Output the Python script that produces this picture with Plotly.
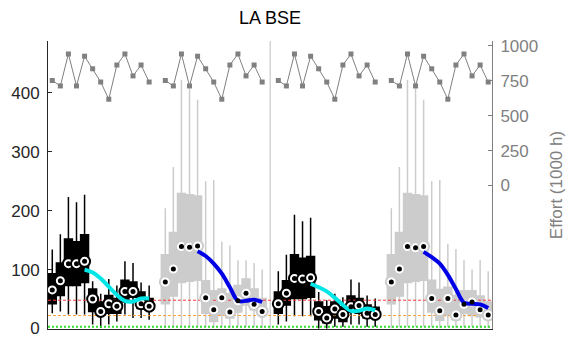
import plotly.graph_objects as go

# x positions of the four year blocks (a gap column separates them)
pos_g1 = list(range(1, 14))
pos_g2 = list(range(15, 28))
pos_g3 = list(range(29, 42))
pos_g4 = list(range(43, 56))

# fishing effort (1000 h), same yearly series in every block
effort = [752, 713, 942, 713, 926, 836, 741, 618, 863, 942, 785, 863, 741]

# block 1 (black)
q1_g1 = [42, 56, 73, 73, 78, 29, 24, 26, 26, 45, 53, 34, 32]
q3_g1 = [93, 111, 152, 147, 159, 67, 45, 56, 51, 82, 79, 62, 51]
lo_g1 = [26, 29, 24, 24, 24, 7, 1, 7, 12, 24, 18, 18, 15]
hi_g1 = [134, 160, 223, 214, 227, 80, 59, 84, 73, 114, 111, 78, 73]
med_g1 = [65.5, 81, 110, 110, 114, 50, 29, 42, 38, 63, 63, 42, 38]

# block 2 (grey)
q1_g2 = [42, 55, 78, 80, 82, 26, 12, 23, 18, 28, 40, 32, 23]
q3_g2 = [125, 163, 229, 227, 225, 81, 64, 67, 59, 73, 84, 67, 51]
lo_g2 = [1, 2, 3, 3, 3, 2, 1, 2, 1, 2, 3, 2, 1]
hi_g2 = [204, 274, 422, 407, 388, 250, 252, 147, 141, 116, 116, 111, 100]
med_g2 = [79, 101, 139, 138, 140, 52, 32, 52, 28, 47, 60, 41, 29]

# block 3 (black)
q1_g3 = [26, 40, 51, 51, 53, 15, 10, 18, 12, 29, 26, 18, 18]
q3_g3 = [62, 81, 125, 119, 122, 45, 37, 45, 37, 55, 51, 40, 36]
lo_g3 = [7, 12, 21, 21, 21, 0, 0, 3, 3, 7, 7, 3, 3]
hi_g3 = [97, 125, 193, 182, 188, 62, 48, 59, 53, 83, 78, 56, 51]
med_g3 = [42, 60, 85, 84, 86, 29, 18, 33, 24, 37, 39, 26, 24]

# block 4 (grey)
q1_g4 = [42, 55, 78, 80, 82, 28, 14, 22, 15, 26, 22, 20, 16]
q3_g4 = [125, 163, 229, 227, 225, 82, 66, 70, 56, 64, 64, 55, 45]
lo_g4 = [1, 2, 3, 3, 3, 2, 1, 2, 1, 2, 3, 2, 1]
hi_g4 = [204, 274, 422, 407, 388, 250, 252, 144, 135, 116, 100, 116, 97]
med_g4 = [79, 101, 139, 137, 139, 51, 30, 51, 23, 41, 45, 32, 23]

# smoothed trends over the last nine years of each block
trend_g1 = [100, 95, 85, 71, 57, 47, 46, 51, 51]
trend_g2 = [131, 123, 110, 93, 70, 47, 47, 49, 45]
trend_g3 = [76, 70, 63, 52, 40, 30, 30, 34, 31]
trend_g4 = [130, 121, 110, 91, 67, 44, 42, 41, 35]

# reference levels
ref_red = 48
ref_orange = 22
ref_green = 3

FONT = "Liberation Sans, Arial, Helvetica, sans-serif"
BLACK = "#000000"
GREY = "#cccccc"
X_RANGE = [0.47, 55.47]

fig = go.Figure()

# horizontal reference lines (behind everything)
for level, col, dash, w in [(ref_red, "#ff3b3b", "3px,2px", 1),
                            (ref_orange, "#ffa033", "3px,2px", 1),
                            (ref_green, "#33dd33", "2px,2px", 2)]:
    fig.add_trace(go.Scatter(x=X_RANGE, y=[level, level], mode="lines",
                             line=dict(color=col, width=w, dash=dash),
                             hoverinfo="skip", showlegend=False))


def add_box(pos, q1, med, q3, lo, hi, col):
    fig.add_trace(go.Box(x=pos, q1=q1, median=med, q3=q3,
                         lowerfence=lo, upperfence=hi,
                         width=0.98, whiskerwidth=0,
                         fillcolor=col, line=dict(color=col, width=1.5),
                         boxpoints=False, showlegend=False, hoverinfo="skip"))


add_box(pos_g2, q1_g2, med_g2, q3_g2, lo_g2, hi_g2, GREY)
add_box(pos_g4, q1_g4, med_g4, q3_g4, lo_g4, hi_g4, GREY)
add_box(pos_g1, q1_g1, med_g1, q3_g1, lo_g1, hi_g1, BLACK)
add_box(pos_g3, q1_g3, med_g3, q3_g3, lo_g3, hi_g3, BLACK)

# effort line on the secondary axis
ex, ey = [], []
for p in (pos_g1, pos_g2, pos_g3, pos_g4):
    ex += p + [None]
    ey += effort + [None]
fig.add_trace(go.Scatter(x=ex, y=ey, yaxis="y2", mode="lines+markers",
                         line=dict(color="#808080", width=1),
                         marker=dict(symbol="square", size=5, color="#808080"),
                         connectgaps=False, showlegend=False, hoverinfo="skip"))

# median markers: white disc with ring
for pos, med, ring in [(pos_g1, med_g1, BLACK), (pos_g2, med_g2, GREY),
                       (pos_g3, med_g3, BLACK), (pos_g4, med_g4, GREY)]:
    fig.add_trace(go.Scatter(x=pos, y=med, mode="markers",
                             marker=dict(symbol="circle", size=11, color="white",
                                         line=dict(color=ring, width=2)),
                             showlegend=False, hoverinfo="skip"))

# trend curves
for pos, tr, col in [(pos_g1, trend_g1, "#00e6e6"), (pos_g2, trend_g2, "#0000e6"),
                     (pos_g3, trend_g3, "#00e6e6"), (pos_g4, trend_g4, "#0000e6")]:
    fig.add_trace(go.Scatter(x=pos[4:], y=tr, mode="lines",
                             line=dict(color=col, width=4, shape="spline"),
                             showlegend=False, hoverinfo="skip"))

# median centre dots
for pos, med in [(pos_g1, med_g1), (pos_g2, med_g2), (pos_g3, med_g3), (pos_g4, med_g4)]:
    fig.add_trace(go.Scatter(x=pos, y=med, mode="markers",
                             marker=dict(symbol="circle", size=5, color="black"),
                             showlegend=False, hoverinfo="skip"))

# divider between the two halves
fig.add_shape(type="line", x0=28, x1=28, y0=0, y1=1, xref="x", yref="paper",
              line=dict(color="#d4d4d4", width=1.5), layer="below")

fig.update_layout(
    width=575, height=349,
    margin=dict(l=44, r=83, t=41, b=11),
    paper_bgcolor="white", plot_bgcolor="white",
    font=dict(family=FONT, size=17, color="#262626"),
    title=dict(text="LA BSE", x=0.5, xref="paper", y=1 - 18 / 349,
               yref="container", yanchor="middle", xanchor="center",
               font=dict(family=FONT, size=18, color="#000000")),
    showlegend=False,
    xaxis=dict(range=X_RANGE, showgrid=False, zeroline=False,
               showline=True, linecolor="#262626", linewidth=1,
               ticks="", showticklabels=False),
    yaxis=dict(range=[-0.8, 487.7], showgrid=False, zeroline=False,
               showline=True, linecolor="#262626", linewidth=1,
               tickvals=[0, 100, 200, 300, 400], ticks="inside", ticklen=4,
               tickcolor="#262626", ticklabelstandoff=4,
               tickfont=dict(family=FONT, size=17, color="#262626")),
    yaxis2=dict(overlaying="y", side="right", range=[-1028, 1035],
                showgrid=False, zeroline=False, showline=True,
                linecolor="#808080", linewidth=1,
                tickvals=[0, 250, 500, 750, 1000], ticks="inside", ticklen=4,
                tickcolor="#808080", ticklabelstandoff=4,
                tickfont=dict(family=FONT, size=17, color="#808080"),
                title=dict(text="Effort (1000 h)", standoff=12,
                           font=dict(family=FONT, size=17, color="#808080"))),
)

fig.write_html("out.html")
